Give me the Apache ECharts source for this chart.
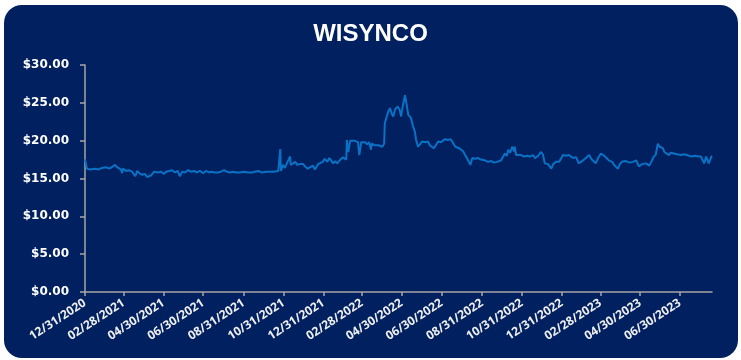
<!DOCTYPE html>
<html>
<head>
<meta charset="utf-8">
<script src="https://cdn.jsdelivr.net/npm/echarts@6/dist/echarts.min.js"></script>
<style>
html,body{margin:0;padding:0;background:#ffffff;}
#chart{width:741px;height:360px;}
</style>
</head>
<body>
<div id="chart"></div>
<script>
// Title
const chartTitle = 'WISYNCO';
// X-axis tick labels (dates)
const tickLabels = ['12/31/2020','02/28/2021','04/30/2021','06/30/2021','08/31/2021','10/31/2021','12/31/2021','02/28/2022','04/30/2022','06/30/2022','08/31/2022','10/31/2022','12/31/2022','02/28/2023','04/30/2023','06/30/2023'];
// Y-axis ticks
const yMin = 0, yMax = 30, yStep = 5;
// Observation days, counted from 12/31/2020
const days = [0,3,8,15,21,26,29,32,37,41,46,49,52,55,57,58,63,67,72,77,80,83,87,92,95,98,101,103,106,112,116,121,124,129,133,138,142,145,149,153,158,162,167,171,176,181,185,190,194,199,204,208,213,217,222,227,231,237,243,250,256,260,265,271,277,283,289,296,299,300,303,306,309,314,315,318,322,325,329,334,337,341,345,349,352,357,360,364,367,371,374,377,380,383,386,390,395,400,401,403,406,409,412,415,418,420,423,426,429,432,435,438,439,443,446,449,452,455,458,459,462,465,467,470,472,475,478,479,482,484,487,490,492,495,499,502,505,507,510,513,516,521,525,528,531,534,537,541,545,548,551,556,560,563,567,570,573,576,579,582,586,590,593,597,602,606,612,617,622,626,631,637,640,643,646,648,651,654,657,658,660,663,668,672,677,681,686,689,694,698,701,704,709,714,717,721,726,732,737,741,747,752,756,761,767,772,775,778,782,785,790,795,798,802,807,810,813,816,819,822,828,834,839,844,848,853,859,864,867,871,874,877,880,882,885,887,890,894,897,900,906,913,917,920,925,929,934,939,943,946,948,951,954,955,959,960];
// Share price ($)
const prices = [17.5,16.3,16.2,16.3,16.2,16.4,16.2,16.5,16.3,16.5,16.8,16.5,16.6,16.2,15.7,16.3,16.0,16.1,15.9,15.3,16.0,15.7,15.5,15.6,15.2,15.15,15.4,15.2,15.9,15.8,15.9,15.6,15.9,16.0,16.1,15.8,16.0,15.3,15.9,15.8,16.1,15.9,16.0,15.8,16.0,15.7,16.0,15.8,15.9,15.8,15.8,15.9,16.1,15.9,15.8,15.9,15.8,15.8,15.9,15.8,15.8,15.9,16.0,15.8,15.9,15.9,15.9,16.0,18.9,16.0,16.8,16.4,17.0,17.9,16.8,16.6,17.2,16.8,16.9,16.9,16.6,16.3,16.5,16.7,16.2,16.9,16.7,17.2,17.6,17.2,17.7,17.4,17.0,17.3,17.0,17.4,17.8,17.5,20.1,18.5,20.0,19.9,20.0,19.9,19.8,18.1,19.8,19.7,19.8,19.5,19.8,18.8,19.6,19.4,19.2,19.4,19.3,19.2,19.6,22.3,23.2,24.0,24.3,23.5,23.2,24.2,24.0,24.5,24.0,23.2,24.8,26.0,25.0,23.4,23.0,22.0,21.2,20.1,19.2,19.5,19.9,19.8,19.9,19.4,19.6,19.0,19.1,19.9,19.8,19.9,20.2,20.1,20.2,20.1,19.2,19.4,19.0,19.0,18.6,18.1,17.5,16.8,17.7,17.6,17.7,17.5,17.4,17.2,17.3,17.1,17.2,17.4,17.6,18.3,18.0,18.8,18.4,19.2,18.6,19.2,18.1,18.0,18.1,17.9,18.0,17.9,18.1,17.7,18.0,18.5,18.2,17.0,16.9,16.3,16.9,17.2,17.2,18.1,18.0,18.1,17.7,17.8,17.0,17.3,17.7,18.1,17.6,17.8,17.0,17.6,18.3,18.0,17.9,17.4,17.2,16.8,17.0,16.3,16.9,17.2,17.3,17.1,17.2,17.4,16.6,16.9,17.0,16.7,17.2,17.9,18.2,19.6,19.2,19.0,19.0,18.5,18.7,18.1,18.4,18.2,18.2,18.1,18.2,18.1,18.0,17.9,18.0,17.9,17.9,17.8,17.0,17.9,17.8,17.0,17.9,18.0];

const DAY = 86400000;
const base = Date.UTC(2020, 11, 31);
function labelToDay(s) {
  const p = s.split('/');
  return Math.round((Date.UTC(+p[2], +p[0] - 1, +p[1]) - base) / DAY);
}
const tickDays = tickLabels.map(labelToDay);
const labelByDay = {};
tickDays.forEach((d, i) => { labelByDay[d] = tickLabels[i]; });
const seriesData = days.map((d, i) => [d, prices[i]]);

const chart = echarts.init(document.getElementById('chart'), null, {renderer: 'canvas'});
chart.setOption({
  animation: false,
  backgroundColor: 'transparent',
  graphic: [{
    type: 'rect', z: -10, silent: true,
    shape: {x: 4, y: 5, width: 734, height: 353, r: 18},
    style: {fill: '#002060'}
  }],
  title: {
    text: chartTitle, left: 'center', top: 17,
    textStyle: {color: '#ffffff', fontSize: 24, fontWeight: 'bold', fontFamily: 'Liberation Sans, Arial, sans-serif'}
  },
  grid: {left: 85, right: 29, top: 65, bottom: 68},
  xAxis: {
    type: 'value', min: 0, max: days[days.length - 1],
    splitLine: {show: false},
    axisLine: {lineStyle: {color: '#A6A6A6', width: 1.5}},
    axisTick: {show: true, customValues: tickDays, length: 4, lineStyle: {color: '#A6A6A6', width: 1.5}},
    axisLabel: {
      customValues: tickDays, rotate: 33, margin: 10,
      color: '#eeeeee', fontSize: 12, fontWeight: 'bold', fontFamily: 'Open Sans, DejaVu Sans, sans-serif',
      formatter: v => labelByDay[Math.round(v)] || ''
    }
  },
  yAxis: {
    type: 'value', min: yMin, max: yMax, interval: yStep,
    splitLine: {show: false},
    axisLine: {show: true, lineStyle: {color: '#A6A6A6', width: 1.5}},
    axisTick: {show: true, length: 5, lineStyle: {color: '#A6A6A6', width: 1.5}},
    axisLabel: {
      margin: 16, color: '#ffffff', fontSize: 12, fontWeight: 'bold', fontFamily: 'DejaVu Sans, sans-serif',
      formatter: v => '$' + v.toFixed(2)
    }
  },
  series: [{
    type: 'line', data: seriesData, showSymbol: false, symbol: 'none',
    lineStyle: {color: '#0A72C4', width: 2}
  }]
});
</script>
</body>
</html>
